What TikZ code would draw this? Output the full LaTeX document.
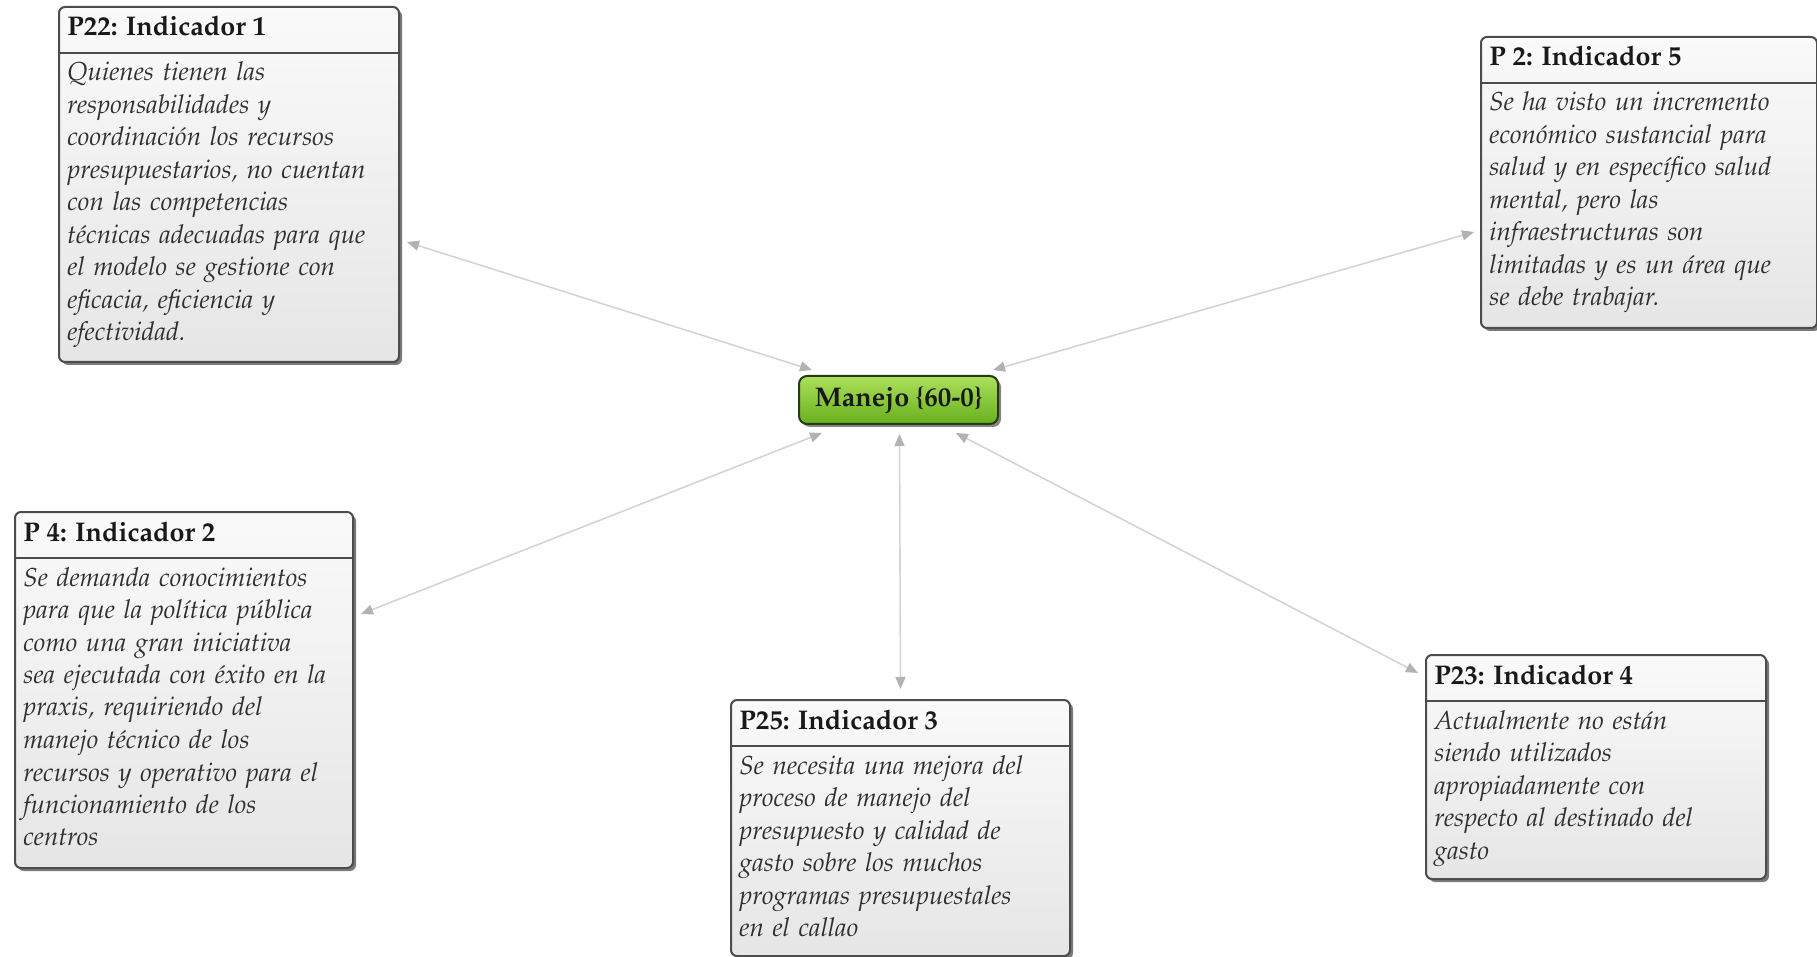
\documentclass[tikz,border=0pt]{standalone}
\usepackage[T1]{fontenc}
\renewcommand{\rmdefault}{ppl}
\usetikzlibrary{shadows,arrows.meta,calc}

\definecolor{leafhi}{RGB}{172,224,92}
\definecolor{leaflo}{RGB}{104,176,28}
\definecolor{leafedge}{RGB}{40,58,20}
\definecolor{bodyink}{RGB}{48,48,48}

\tikzset{
  infobox/.style={draw=black!70, line width=1pt, rounded corners=3pt,
    top color=black!2, bottom color=black!10, inner sep=0pt,
    drop shadow={shadow xshift=1.5pt, shadow yshift=-1.5pt, fill=black!80, opacity=.65}},
  sepline/.style={draw=black!70, line width=1pt},
  ttl/.style={font=\fontsize{13.5}{16}\selectfont\bfseries, text=black!90, inner sep=0pt},
  bdy/.style={font=\fontsize{13}{16.25}\selectfont\itshape, text=bodyink, inner sep=0pt,
    text width=165pt, align=left},
  hub/.style={draw=leafedge, line width=1pt, rounded corners=4pt,
    top color=leafhi, bottom color=leaflo, inner sep=0pt,
    font=\fontsize{13.5}{16}\selectfont\bfseries, text=black!90,
    drop shadow={shadow xshift=1.5pt, shadow yshift=-1.5pt, fill=black!80, opacity=.6}},
  conn/.style={draw=black!17, line width=0.8pt,
    arrows={Triangle[length=6pt,width=5pt,color=black!30]-Triangle[length=6pt,width=5pt,color=black!30]}}
}

% #1 name, #2 left, #3 top, #4 width, #5 height, #6 title, #7 body (all in px units)
\newcommand{\ibox}[7]{%
  \node[infobox, anchor=north west, minimum width={#4*0.5pt}, minimum height={#5*0.5pt}] (#1) at (#2,#3) {};
  \draw[sepline] ([yshift={-47*0.5pt}]#1.north west) -- ([yshift={-47*0.5pt}]#1.north east);
  \node[ttl, anchor=base west] (#1-t) at ([shift={(9,30)}]#1.north west) {#6};
  \node[bdy, anchor=base west] (#1-b) at ([shift={(9,75)}]#1.north west) {#7};
}

\begin{document}
\begin{tikzpicture}[x=0.5pt, y=-0.5pt]
  \useasboundingbox (0,0) rectangle (1817,957);

  \ibox{p22}{58}{6}{340}{355}{P22: Indicador 1}{%
    Quienes tienen las\\ responsabilidades y\\ coordinaci\'on los recursos\\
    presupuestarios, no cuentan\\ con las competencias\\ t\'ecnicas adecuadas para que\\
    el modelo se gestione con\\ eficacia, eficiencia y\\ efectividad.}

  \ibox{p2}{1480}{36}{336}{291}{P 2: Indicador 5}{%
    Se ha visto un incremento\\ econ\'omico sustancial para\\ salud y en espec\'ifico salud\\
    mental, pero las\\ infraestructuras son\\ limitadas y es un \'area que\\ se debe trabajar.}

  \ibox{p4}{14}{511}{338}{356}{P 4: Indicador 2}{%
    Se demanda conocimientos\\ para que la pol\'itica p\'ublica\\ como una gran iniciativa\\
    sea ejecutada con \'exito en la\\ praxis, requiriendo del\\ manejo t\'ecnico de los\\
    recursos y operativo para el\\ funcionamiento de los\\ centros}

  \ibox{p25}{730}{699}{339}{256}{P25: Indicador 3}{%
    Se necesita una mejora del\\ proceso de manejo del\\ presupuesto y calidad de\\
    gasto sobre los muchos\\ programas presupuestales\\ en el callao}

  \ibox{p23}{1425}{654}{340}{224}{P23: Indicador 4}{%
    Actualmente no est\'an\\ siendo utilizados\\ apropiadamente con\\
    respecto al destinado del\\ gasto}

  \node[hub, minimum width=99.5pt, minimum height=24pt] (m) at (898.5,400) {Manejo \{60-0\}};

  \draw[conn] ([shift={(7,236)}]p22.north east) -- ([shift={(14,-5)}]m.north west);
  \draw[conn] ([shift={(-6,196)}]p2.north west) -- ([shift={(-6,-5)}]m.north east);
  \draw[conn] ([shift={(7,103)}]p4.north east) -- ([shift={(24,8)}]m.south west);
  \draw[conn] ([shift={(0,-10)}]p25.north) -- ([shift={(1,9)}]m.south);
  \draw[conn] ([shift={(-7,19)}]p23.north west) -- ([shift={(-43,8)}]m.south east);
\end{tikzpicture}
\end{document}
